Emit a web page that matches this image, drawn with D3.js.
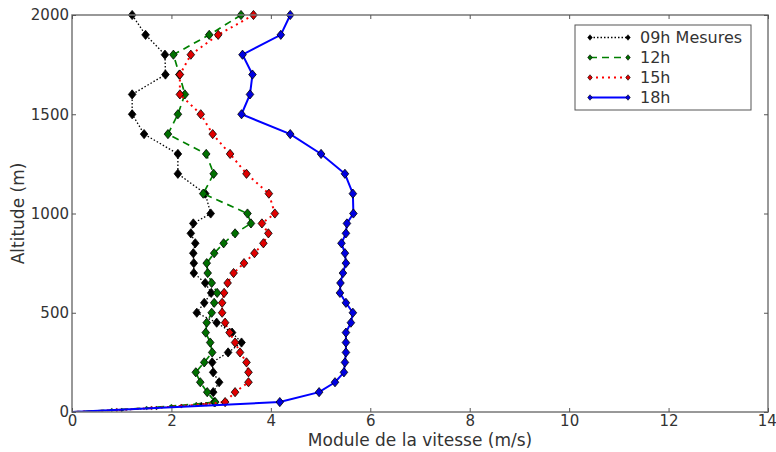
<!DOCTYPE html>
<html lang="fr">
<head>
<meta charset="utf-8">
<title>Module de la vitesse</title>
<script src="https://cdn.jsdelivr.net/npm/d3@7/dist/d3.min.js"></script>
<style>
  body { margin: 0; background: #fff; }
  text { font-family: "DejaVu Sans", sans-serif; fill: #333; }
</style>
</head>
<body>
<script>
// altitudes (m)
var altHigh = [2000, 1900, 1800, 1700, 1600, 1500, 1400, 1300, 1200, 1100];
var altLow  = [1000, 950, 900, 850, 800, 750, 700, 650, 600, 550, 500, 450, 400, 350, 300, 250, 200, 150, 100, 50];
var altSurf = [40, 30, 20, 10, 0];

// wind speed (m/s) for each series
var v09 = [1.21, 1.48, 1.87, 1.88, 1.21, 1.21, 1.45, 2.13, 2.13, 2.68,
           2.79, 2.44, 2.39, 2.48, 2.44, 2.45, 2.45, 2.68, 2.80, 2.66,
           2.51, 2.91, 3.22, 3.41, 3.14, 2.82, 2.84, 2.96, 2.84, 2.86,
           2.6, 2.2, 1.7, 1.0, 0];
var v12 = [3.40, 2.76, 2.04, 2.16, 2.27, 2.13, 1.93, 2.70, 2.85, 2.64,
           3.53, 3.60, 3.28, 3.05, 2.86, 2.71, 2.73, 2.81, 2.92, 2.86,
           2.81, 2.71, 2.69, 2.78, 2.82, 2.66, 2.49, 2.58, 2.72, 2.88,
           2.5, 2.0, 1.5, 0.8, 0];
var v15 = [3.65, 2.94, 2.39, 2.17, 2.17, 2.59, 2.83, 3.18, 3.51, 3.96,
           4.08, 3.82, 3.95, 3.85, 3.67, 3.46, 3.25, 3.13, 3.06, 3.02,
           3.02, 3.08, 3.17, 3.28, 3.38, 3.51, 3.55, 3.55, 3.28, 3.08,
           2.7, 2.2, 1.6, 0.9, 0];
var v18 = [4.39, 4.20, 3.43, 3.63, 3.58, 3.41, 4.39, 5.01, 5.49, 5.65,
           5.66, 5.53, 5.51, 5.42, 5.49, 5.51, 5.45, 5.40, 5.39, 5.51,
           5.65, 5.61, 5.51, 5.51, 5.51, 5.49, 5.47, 5.29, 4.97, 4.18,
           0];

var xTicks = [0, 2, 4, 6, 8, 10, 12, 14];
var yTicks = [0, 500, 1000, 1500, 2000];
var labels = ["09h Mesures", "12h", "15h", "18h"];

var altAll = altHigh.concat(altLow, altSurf);
var alt18 = altHigh.concat(altLow, [0]);

var series = [
  { name: labels[0], alt: altAll, v: v09, color: "#000000", mark: "#000000", dash: "1.5,2", lw: 1.3 },
  { name: labels[1], alt: altAll, v: v12, color: "#008000", mark: "#007000", dash: "7,5", lw: 1.7 },
  { name: labels[2], alt: altAll, v: v15, color: "#ff0000", mark: "#e00000", dash: "2,4", lw: 2 },
  { name: labels[3], alt: alt18, v: v18, color: "#0000ff", mark: "#0000e0", dash: null, lw: 2 }
];

var w = 776, h = 452;
var margin = { top: 15, right: 8, bottom: 40, left: 72 };

var svg = d3.select("body").append("svg")
  .attr("width", w)
  .attr("height", h);

var x = d3.scaleLinear().domain([0, 14]).range([margin.left, w - margin.right]);
var y = d3.scaleLinear().domain([0, 2000]).range([h - margin.bottom, margin.top]);

svg.append("clipPath").attr("id", "plot")
  .append("rect")
  .attr("x", margin.left).attr("y", margin.top - 6)
  .attr("width", x(14) - x(0)).attr("height", y(0) - y(2000) + 6);

// diamond marker path, k scales it
function diamond(cx, cy, k) {
  var hy = 4.6 * k, hx = 3.8 * k;
  return "M" + cx + "," + (cy - hy) + "L" + (cx + hx) + "," + cy +
         "L" + cx + "," + (cy + hy) + "L" + (cx - hx) + "," + cy + "Z";
}

var plot = svg.append("g").attr("clip-path", "url(#plot)");

series.forEach(function(s) {
  var pts = s.v.map(function(d, i) { return [d, s.alt[i]]; });
  var line = d3.line()
    .x(function(d) { return x(d[0]); })
    .y(function(d) { return y(d[1]); });
  plot.append("path")
    .attr("d", line(pts))
    .attr("fill", "none")
    .attr("stroke", s.color)
    .attr("stroke-width", s.lw)
    .attr("stroke-dasharray", s.dash);
  plot.selectAll(null)
    .data(pts.filter(function(d) { return d[1] > 0; }))
    .enter()
    .append("path")
    .attr("d", function(d) { return diamond(x(d[0]), y(d[1]), d[1] < 50 ? 0.45 : 1); })
    .attr("fill", s.mark)
    .attr("stroke", "#000")
    .attr("stroke-width", function(d) { return d[1] < 50 ? 0.3 : 0.8; });
});

// frame
svg.append("rect")
  .attr("x", x(0)).attr("y", y(2000))
  .attr("width", x(14) - x(0)).attr("height", y(0) - y(2000))
  .attr("fill", "none")
  .attr("stroke", "#777")
  .attr("stroke-width", 1.5);

// axes with inward ticks
var xAxis = svg.append("g")
  .attr("transform", "translate(0," + y(0) + ")")
  .call(d3.axisBottom(x).tickValues(xTicks).tickSize(-4).tickPadding(5).tickFormat(d3.format("d")));
var xTop = svg.append("g")
  .attr("transform", "translate(0," + y(2000) + ")")
  .call(d3.axisTop(x).tickValues(xTicks).tickSize(-4).tickFormat(""));
var yAxis = svg.append("g")
  .attr("transform", "translate(" + x(0) + ",0)")
  .call(d3.axisLeft(y).tickValues(yTicks).tickSize(-4).tickPadding(3).tickFormat(d3.format("d")));
var yRight = svg.append("g")
  .attr("transform", "translate(" + x(14) + ",0)")
  .call(d3.axisRight(y).tickValues(yTicks).tickSize(-4).tickFormat(""));

[xAxis, xTop, yAxis, yRight].forEach(function(g) {
  g.select(".domain").remove();
  g.selectAll(".tick line").attr("stroke", "#555");
  g.selectAll("text").style("font-size", "15px").attr("fill", "#333");
});
xAxis.selectAll("text").attr("dy", "0.6em");
// keep the last label inside the window
xAxis.selectAll(".tick text").filter(function(d) { return d === 14; })
  .attr("text-anchor", "end").attr("dx", "0.55em");

svg.append("text")
  .attr("x", (x(0) + x(14)) / 2)
  .attr("y", 446)
  .attr("text-anchor", "middle")
  .style("font-size", "17px")
  .text("Module de la vitesse (m/s)");

svg.append("text")
  .attr("transform", "translate(24," + ((y(0) + y(2000)) / 2) + ") rotate(-90)")
  .attr("text-anchor", "middle")
  .style("font-size", "17px")
  .text("Altitude (m)");

// legend
var leg = svg.append("g").attr("transform", "translate(575,25)");
leg.append("rect")
  .attr("width", 176).attr("height", 85)
  .attr("fill", "#fff")
  .attr("stroke", "#555")
  .attr("stroke-width", 1);

series.forEach(function(s, i) {
  var ly = 12.5 + i * 20;
  leg.append("line")
    .attr("x1", 15).attr("x2", 53)
    .attr("y1", ly).attr("y2", ly)
    .attr("stroke", s.color)
    .attr("stroke-width", s.lw)
    .attr("stroke-dasharray", s.dash);
  [15, 53].forEach(function(lx) {
    leg.append("path")
      .attr("d", diamond(lx, ly, 0.6))
      .attr("fill", s.mark)
      .attr("stroke", "#000")
      .attr("stroke-width", 0.6);
  });
  leg.append("text")
    .attr("x", 65).attr("y", ly)
    .attr("dy", "0.36em")
    .style("font-size", "16px")
    .text(s.name);
});
</script>
</body>
</html>
